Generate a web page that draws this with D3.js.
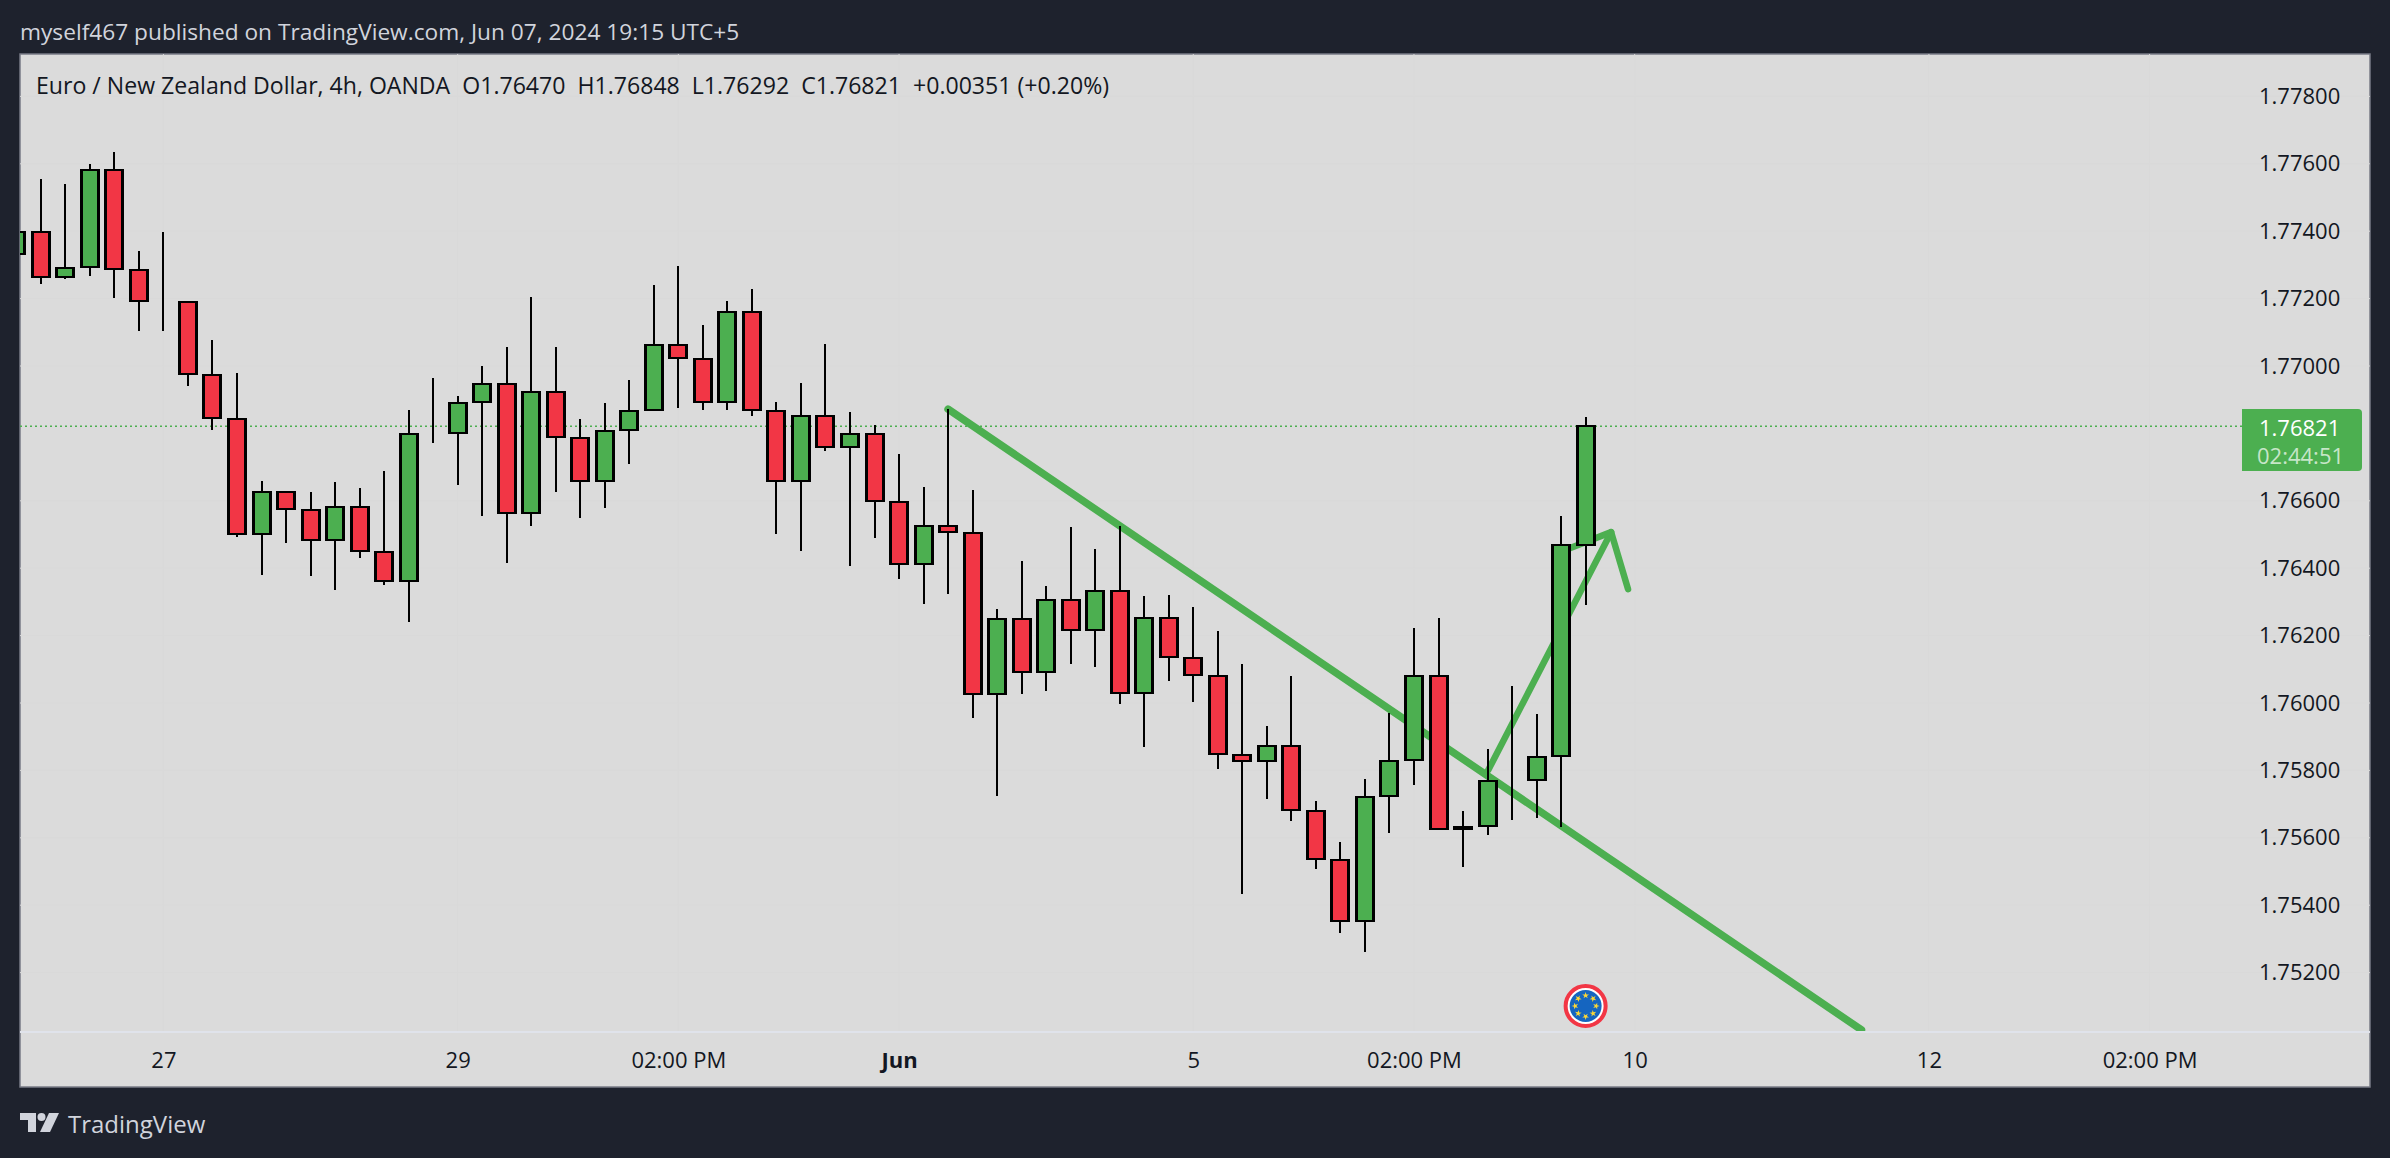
<!DOCTYPE html>
<html>
<head>
<meta charset="utf-8">
<script src="https://cdn.jsdelivr.net/npm/d3@7"></script>
<style>
  html, body { margin: 0; padding: 0; background: #1e222d; }
  svg { display: block; }
  text { font-family: "Open Sans", sans-serif; }
</style>
</head>
<body>
<div id="chart"></div>
<script>
// OHLC, one entry per 4h bar
const opens = [1.77332, 1.77397, 1.77264, 1.77294, 1.77581, 1.77285, 1.77193, 1.77190, 1.76973, 1.76843,
  1.76501, 1.76626, 1.76573, 1.76484, 1.76582, 1.76448, 1.76362, 1.76801, 1.76801, 1.76893,
  1.76946, 1.76564, 1.76923, 1.76786, 1.76659, 1.76810, 1.76869, 1.77062, 1.77021, 1.76893,
  1.77160, 1.76866, 1.76659, 1.76852, 1.76760, 1.76798, 1.76596, 1.76412, 1.76525, 1.76504,
  1.76027, 1.76249, 1.76092, 1.76306, 1.76217, 1.76332, 1.76030, 1.76252, 1.76134, 1.76080,
  1.75846, 1.75828, 1.75872, 1.75680, 1.75534, 1.75353, 1.75724, 1.75831, 1.76080, 1.75632,
  1.75635, 1.75772, 1.75772, 1.75843, 1.76470];
const highs = [1.77397, 1.77555, 1.77540, 1.77599, 1.77635, 1.77341, 1.77397, 1.77190, 1.77077, 1.76979,
  1.76659, 1.76626, 1.76626, 1.76656, 1.76638, 1.76688, 1.76869, 1.76964, 1.76911, 1.77000,
  1.77056, 1.77205, 1.77056, 1.76843, 1.76890, 1.76958, 1.77240, 1.77297, 1.77122, 1.77193,
  1.77228, 1.76893, 1.76949, 1.77065, 1.76863, 1.76825, 1.76739, 1.76641, 1.76872, 1.76632,
  1.76279, 1.76421, 1.76347, 1.76522, 1.76457, 1.76525, 1.76317, 1.76320, 1.76285, 1.76214,
  1.76116, 1.75932, 1.76080, 1.75709, 1.75588, 1.75775, 1.75970, 1.76223, 1.76252, 1.75680,
  1.75864, 1.76050, 1.75967, 1.76555, 1.76848];
const lows = [1.77332, 1.77243, 1.77258, 1.77267, 1.77202, 1.77104, 1.77104, 1.76941, 1.76810, 1.76493,
  1.76380, 1.76475, 1.76377, 1.76335, 1.76430, 1.76350, 1.76240, 1.76771, 1.76647, 1.76555,
  1.76415, 1.76525, 1.76626, 1.76549, 1.76579, 1.76709, 1.76869, 1.76875, 1.76869, 1.76869,
  1.76852, 1.76501, 1.76451, 1.76748, 1.76406, 1.76490, 1.76368, 1.76294, 1.76323, 1.75955,
  1.75724, 1.76027, 1.76036, 1.76116, 1.76107, 1.75997, 1.75869, 1.76065, 1.76003, 1.75804,
  1.75433, 1.75715, 1.75650, 1.75507, 1.75318, 1.75261, 1.75614, 1.75757, 1.75626, 1.75513,
  1.75608, 1.75653, 1.75659, 1.75632, 1.76292];
const closes = [1.77397, 1.77264, 1.77291, 1.77581, 1.77288, 1.77193, 1.77193, 1.76976, 1.76846, 1.76501,
  1.76626, 1.76576, 1.76484, 1.76582, 1.76451, 1.76362, 1.76798, 1.76801, 1.76890, 1.76946,
  1.76564, 1.76923, 1.76789, 1.76659, 1.76807, 1.76866, 1.77062, 1.77024, 1.76893, 1.77160,
  1.76869, 1.76659, 1.76852, 1.76760, 1.76798, 1.76599, 1.76412, 1.76525, 1.76507, 1.76027,
  1.76249, 1.76092, 1.76306, 1.76217, 1.76332, 1.76030, 1.76252, 1.76136, 1.76083, 1.75849,
  1.75828, 1.75872, 1.75683, 1.75537, 1.75353, 1.75721, 1.75828, 1.76080, 1.75626, 1.75626,
  1.75769, 1.75772, 1.75840, 1.76469, 1.76821];

const priceTicks = [1.778, 1.776, 1.774, 1.772, 1.77, 1.766, 1.764, 1.762, 1.76, 1.758, 1.756, 1.754, 1.752];
const timeTicks = [6, 18, 27, 36, 48, 57, 66, 78, 87];
const timeLabels = ["27", "29", "02:00 PM", "Jun", "5", "02:00 PM", "10", "12", "02:00 PM"];

// user drawings, [bar, price]
const trendLine = [[38.0, 1.76872], [75.25, 1.75030]];
const arrowShaft = [[60.03, 1.75801], [65.04, 1.76507]];
const arrowWings = [[62.75, 1.76442], [65.04, 1.76507], [65.73, 1.76338]];

const titleText = "myself467 published on TradingView.com, Jun 07, 2024 19:15 UTC+5";
const legendText = "Euro / New Zealand Dollar, 4h, OANDA  O1.76470  H1.76848  L1.76292  C1.76821  +0.00351 (+0.20%)";
const lastPrice = 1.76821;
const countdown = "02:44:51";
const eventBar = 64;

const width = 2390, height = 1158;
const pane = { left: 20, top: 54, right: 2370, bottom: 1087, axis: 1032 };
const green = "#4caf50", red = "#f23645";

const x = d3.scaleLinear().domain([0, 87]).range([16.3, 2149.6]);
const y = d3.scaleLinear().domain([1.752, 1.778]).range([972.6, 96.4]);

const svg = d3.select("#chart").append("svg")
  .attr("width", width)
  .attr("height", height);

svg.append("rect")
  .attr("width", width)
  .attr("height", height)
  .attr("fill", "#1e222d");

svg.append("rect")
  .attr("x", pane.left)
  .attr("y", pane.top)
  .attr("width", pane.right - pane.left)
  .attr("height", pane.bottom - pane.top)
  .attr("fill", "#dbdbdb")
  .attr("stroke", "#787b86")
  .attr("stroke-width", 1.5);

svg.append("clipPath").attr("id", "plot")
  .append("rect")
  .attr("x", pane.left)
  .attr("y", pane.top)
  .attr("width", pane.right - pane.left)
  .attr("height", pane.axis - pane.top);

const plot = svg.append("g").attr("clip-path", "url(#plot)");

// faint grid
plot.selectAll(".vgrid").data(timeTicks).join("line")
  .attr("x1", d => x(d)).attr("x2", d => x(d))
  .attr("y1", pane.top).attr("y2", pane.axis)
  .attr("stroke", "#d9d9d9");
plot.selectAll(".hgrid").data(priceTicks).join("line")
  .attr("x1", pane.left).attr("x2", pane.right)
  .attr("y1", d => y(d)).attr("y2", d => y(d))
  .attr("stroke", "#d9d9d9");

// last price line
plot.append("line")
  .attr("x1", pane.left).attr("x2", 2242)
  .attr("y1", y(lastPrice)).attr("y2", y(lastPrice))
  .attr("stroke", green)
  .attr("stroke-width", 1.5)
  .attr("stroke-dasharray", "2 3");

// drawings sit under the candles in this picture
const line = d3.line().x(d => x(d[0])).y(d => y(d[1]));
[[trendLine, 7.5], [arrowShaft, 6.5], [arrowWings, 6.5]].forEach(([pts, w]) => {
  plot.append("path")
    .attr("d", line(pts))
    .attr("fill", "none")
    .attr("stroke", green)
    .attr("stroke-width", w)
    .attr("stroke-linecap", "round")
    .attr("stroke-linejoin", "round");
});

// candles
const bars = d3.range(opens.length);
plot.selectAll(".wick").data(bars).join("line")
  .attr("x1", d => Math.round(x(d)))
  .attr("x2", d => Math.round(x(d)))
  .attr("y1", d => y(highs[d]))
  .attr("y2", d => y(lows[d]))
  .attr("stroke", "#000")
  .attr("stroke-width", 2)
  .attr("shape-rendering", "crispEdges");

plot.selectAll(".body").data(bars).join("rect")
  .attr("x", d => Math.round(x(d)) - 8.5)
  .attr("width", 17)
  .attr("y", d => Math.round(y(Math.max(opens[d], closes[d]))))
  .attr("height", d => Math.abs(Math.round(y(opens[d])) - Math.round(y(closes[d]))))
  .attr("fill", d => closes[d] >= opens[d] ? green : red)
  .attr("stroke", "#000")
  .attr("stroke-width", 2.4)
  .attr("shape-rendering", "crispEdges");

// price axis
const yAxis = d3.axisRight(y)
  .tickValues(priceTicks)
  .tickFormat(d3.format(".5f"))
  .tickSize(0)
  .tickPadding(0);
const yG = svg.append("g").attr("transform", "translate(2259,0)").call(yAxis);
yG.select(".domain").remove();
yG.selectAll("text")
  .attr("fill", "#131722")
  .style("font-size", "22px")
  .style("font-family", '"Open Sans", sans-serif');

// time axis
const xAxis = d3.axisBottom(x)
  .tickValues(timeTicks)
  .tickFormat((d, i) => timeLabels[i])
  .tickSize(0)
  .tickPadding(0);
const xG = svg.append("g").attr("transform", "translate(0," + 1052 + ")").call(xAxis);
xG.select(".domain").remove();
xG.selectAll("text")
  .attr("fill", "#131722")
  .style("font-size", "22px")
  .style("font-family", '"Open Sans", sans-serif')
  .style("font-weight", d => d === 36 ? 700 : 400);

svg.append("line")
  .attr("x1", pane.left).attr("x2", pane.right)
  .attr("y1", pane.axis).attr("y2", pane.axis)
  .attr("stroke", "#e0e3eb")
  .attr("stroke-width", 2);

// last price tag
const tagPath = d3.path();
tagPath.moveTo(2242, 409);
tagPath.lineTo(2358, 409);
tagPath.arcTo(2362, 409, 2362, 413, 4);
tagPath.lineTo(2362, 467);
tagPath.arcTo(2362, 471, 2358, 471, 4);
tagPath.lineTo(2242, 471);
tagPath.closePath();
svg.append("path").attr("d", tagPath.toString()).attr("fill", green);

svg.append("text")
  .attr("x", 2259).attr("y", y(lastPrice) + 1)
  .attr("dominant-baseline", "central")
  .attr("fill", "#fff")
  .style("font-size", "22px")
  .style("font-weight", 500)
  .text(lastPrice.toFixed(5));

svg.append("text")
  .attr("x", 2257).attr("y", 455)
  .attr("dominant-baseline", "central")
  .attr("fill", "#fff")
  .attr("fill-opacity", 0.7)
  .style("font-size", "22px")
  .text(countdown);

// header texts
svg.append("text")
  .attr("x", 20).attr("y", 31)
  .attr("dominant-baseline", "central")
  .attr("fill", "#d1d4dc")
  .style("font-size", "22.7px")
  .text(titleText);

svg.append("text")
  .attr("x", 36).attr("y", 85)
  .attr("dominant-baseline", "central")
  .attr("fill", "#131722")
  .attr("xml:space", "preserve")
  .style("white-space", "pre")
  .style("font-size", "23.1px")
  .text(legendText);

// economic event marker
const eventG = svg.append("g")
  .attr("transform", "translate(" + x(eventBar) + ",1006)");
eventG.append("circle").attr("r", 20).attr("fill", "#fff").attr("stroke", red).attr("stroke-width", 4);
eventG.append("circle").attr("r", 16).attr("fill", "#1565c0");
eventG.selectAll("path").data(d3.range(8)).join("path")
  .attr("d", d3.symbol().type(d3.symbolStar).size(14))
  .attr("fill", "#fdd835")
  .attr("transform", d => "rotate(" + d * 45 + ") translate(0,-10.5)");

// logo
const logoG = svg.append("g").attr("fill", "#d1d4dc");
logoG.append("path").attr("d", "M20 1113H36V1132H28V1120H20Z");
logoG.append("circle").attr("cx", 41.5).attr("cy", 1117).attr("r", 4);
logoG.append("path").attr("d", "M49 1113H59L50 1132H40Z");
svg.append("text")
  .attr("x", 68).attr("y", 1123)
  .attr("dominant-baseline", "central")
  .attr("fill", "#d1d4dc")
  .style("font-size", "24px")
  .text("TradingView");
</script>
</body>
</html>
